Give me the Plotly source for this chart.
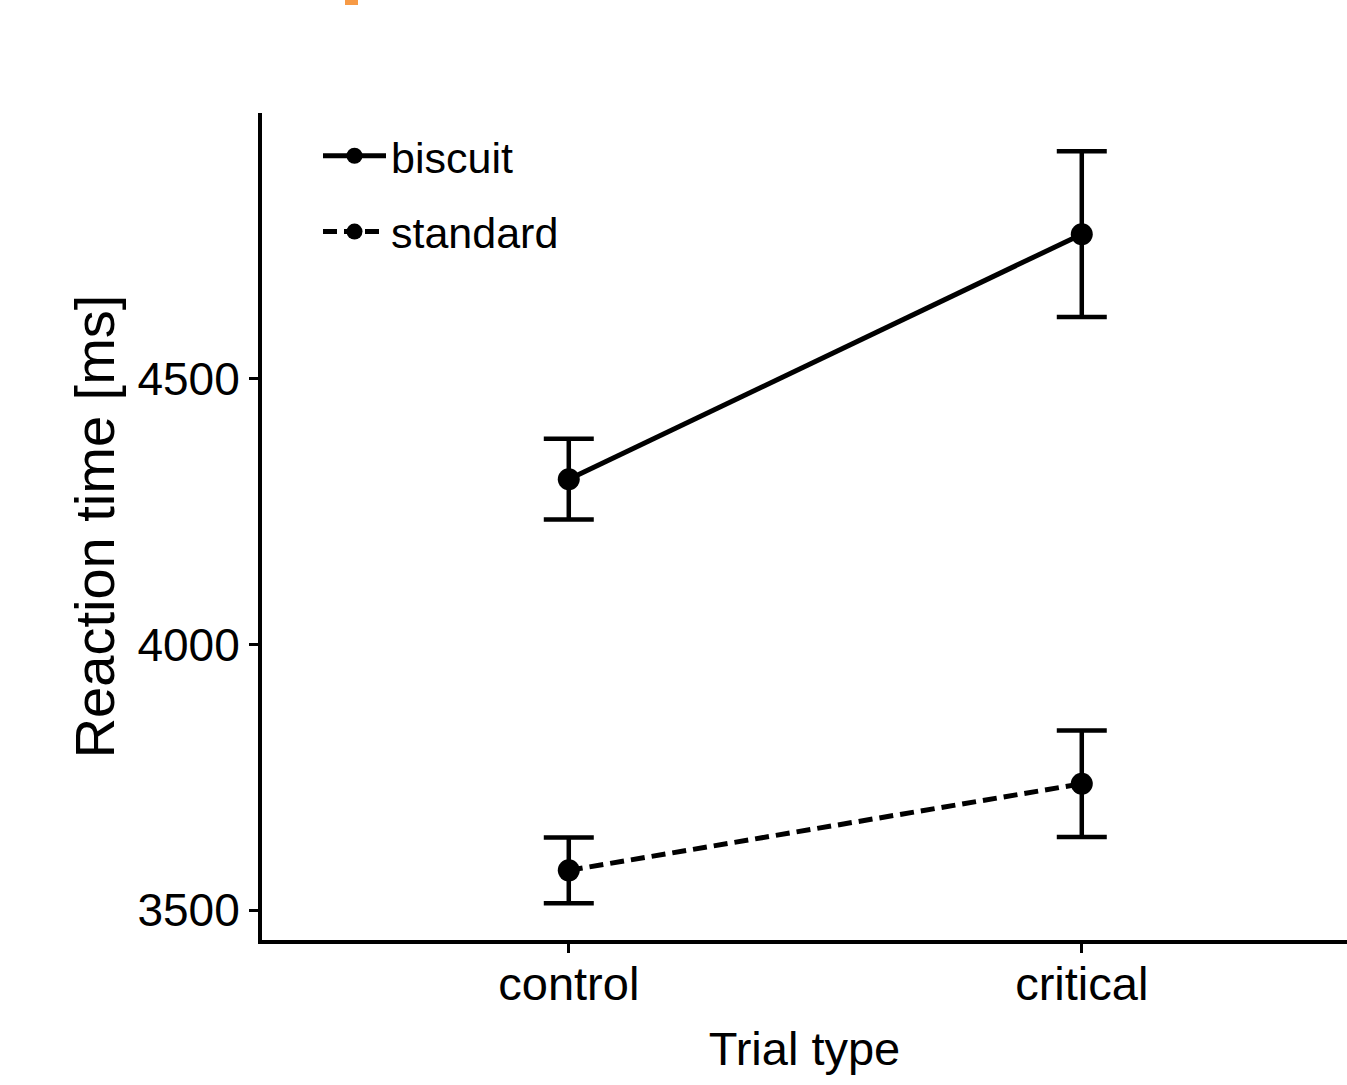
import plotly.graph_objects as go

# Data
categories = ["control", "critical"]
series_names = ["biscuit", "standard"]
biscuit_mean = [4311, 4772]
biscuit_err = [76, 156]
standard_mean = [3575, 3738]
standard_err = [62, 100]
y_ticks = [3500, 4000, 4500]

FONT = "Liberation Sans, Arial, sans-serif"

W, H = 1347, 1085
L, T, B = 262, 113, 145
PLOT_W = W - L
PLOT_H = H - T - B

fig = go.Figure()

def add_series(name, means, errs, dash, group):
    fig.add_trace(go.Scatter(
        x=categories, y=means, name=name, mode="lines+markers",
        legendgroup=group,
        line=dict(color="black", width=5, dash=dash),
        marker=dict(color="black", size=22, symbol="circle"),
        error_y=dict(type="data", array=errs, visible=True, color="black",
                     thickness=4.5, width=25),
    ))

add_series(series_names[0], biscuit_mean, biscuit_err, "solid", "g1")
add_series(series_names[1], standard_mean, standard_err, "14px,7px", "g2")

# stray orange mark at top edge of the reference image
fig.add_shape(type="rect", xref="paper", yref="paper",
              x0=(345 - L) / PLOT_W, x1=(358 - L) / PLOT_W,
              y0=(H - B - 5) / PLOT_H, y1=(H - B + 5) / PLOT_H,
              fillcolor="#F79A45", line=dict(width=0), layer="above")

fig.update_layout(
    width=W, height=H,
    margin=dict(l=L, r=0, t=T, b=B, autoexpand=False),
    plot_bgcolor="white", paper_bgcolor="white",
    font=dict(family=FONT, color="black"),
    showlegend=True,
    legend=dict(x=(318 - L) / PLOT_W, y=0.99, xanchor="left", yanchor="top",
                font=dict(size=43, family=FONT, color="black"),
                bgcolor="rgba(0,0,0,0)", traceorder="grouped",
                tracegroupgap=17, itemwidth=63),
)

fig.update_xaxes(
    range=[-0.598, 1.517], type="category",
    showline=True, linecolor="black", linewidth=4,
    ticks="outside", ticklen=9, tickwidth=3, tickcolor="black",
    showgrid=False, zeroline=False, ticklabelstandoff=-9,
    tickfont=dict(size=47, family=FONT, color="black"),
    title=dict(text="Trial type", font=dict(size=47, family=FONT, color="black"), standoff=24),
)
fig.update_yaxes(
    range=[3444, 5000], tickvals=y_ticks, ticktext=[str(v) for v in y_ticks],
    showline=True, linecolor="black", linewidth=4,
    ticks="outside", ticklen=9, tickwidth=3, tickcolor="black",
    showgrid=False, zeroline=False,
    tickfont=dict(size=46, family=FONT, color="black"),
    title=dict(text="Reaction time [ms]", font=dict(size=56, family=FONT, color="black"), standoff=6),
)

fig.write_html("out.html", config={"displayModeBar": False},
               post_script="document.body.style.margin='0';document.body.style.overflow='hidden';")
